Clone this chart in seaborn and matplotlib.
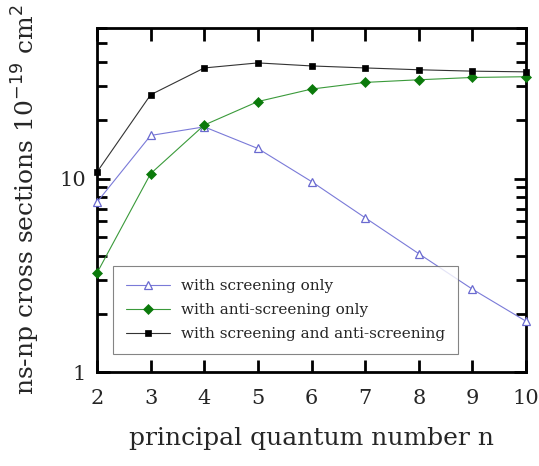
import numpy as np
import pandas as pd
import matplotlib
matplotlib.use("Agg")
import matplotlib.pyplot as plt
import seaborn as sns
from matplotlib.ticker import LogLocator, FixedLocator, NullFormatter, FuncFormatter

# principal quantum number
n_values = [2, 3, 4, 5, 6, 7, 8, 9, 10]

# ns-np cross sections (1e-19 cm^2)
screening_only = [7.55, 16.7, 18.5, 14.3, 9.65, 6.27, 4.09, 2.68, 1.83]
anti_screening_only = [3.25, 10.6, 18.9, 25.0, 29.0, 31.4, 32.4, 33.3, 33.6]
screening_and_anti = [10.8, 27.1, 37.3, 39.6, 38.2, 37.3, 36.5, 35.9, 35.6]

labels = ["with screening only",
          "with anti-screening only",
          "with screening and anti-screening"]

df = pd.concat([
    pd.DataFrame({"n": n_values, "sigma": screening_only, "model": labels[0]}),
    pd.DataFrame({"n": n_values, "sigma": anti_screening_only, "model": labels[1]}),
    pd.DataFrame({"n": n_values, "sigma": screening_and_anti, "model": labels[2]}),
])

sns.set_theme(style="ticks")
plt.rcParams["font.family"] = ["DejaVu Serif"]

fig = plt.figure(figsize=(5.39, 4.66), dpi=100)
ax = fig.add_axes([97 / 539, 1 - 372 / 466, (526 - 97) / 539, (372 - 28) / 466])

styles = {
    labels[0]: dict(color="#7a7ad8", marker="^", mfc="white", mec="#6a6ad0",
                    ms=6, mew=0.9),
    labels[1]: dict(color="#3a9a3a", marker="D", mfc="#0b7a0b", mec="#0b7a0b",
                    ms=5, mew=0.5),
    labels[2]: dict(color="#333333", marker="s", mfc="black", mec="black",
                    ms=5, mew=0.5),
}

for lab in labels:
    st = styles[lab]
    sns.lineplot(data=df[df["model"] == lab], x="n", y="sigma", ax=ax,
                 color=st["color"], lw=0.8, marker=st["marker"],
                 markerfacecolor=st["mfc"], markeredgecolor=st["mec"],
                 markersize=st["ms"], markeredgewidth=st["mew"],
                 label=lab, clip_on=False, zorder=3)

ax.set_yscale("log")
ax.set_xlim(2, 10)
ax.set_ylim(1, 60)

ax.xaxis.set_major_locator(FixedLocator(n_values))
ax.yaxis.set_major_locator(LogLocator(base=10))
ax.yaxis.set_minor_locator(LogLocator(base=10, subs=np.arange(2, 10)))
ax.yaxis.set_major_formatter(FuncFormatter(lambda v, p: f"{v:g}"))
ax.yaxis.set_minor_formatter(NullFormatter())

for s in ax.spines.values():
    s.set_linewidth(2.0)
    s.set_color("black")

ax.tick_params(which="both", direction="in", top=True, right=True,
               width=2.0, color="black")
ax.tick_params(which="major", length=9, labelsize=15)
ax.tick_params(axis="x", which="major", pad=12)
ax.tick_params(axis="y", which="major", pad=8)
ax.tick_params(which="minor", length=7)

ax.set_xlabel("principal quantum number n", fontsize=18, labelpad=14)
ax.set_ylabel(r"ns-np cross sections 10$^{-19}$ cm$^2$", fontsize=18, labelpad=12)
ax.grid(False)

leg = ax.legend(loc="lower left", bbox_to_anchor=(16 / 429, 18 / 344),
                frameon=True, fancybox=False, fontsize=11,
                handlelength=2.9, borderpad=0.85, labelspacing=0.65,
                handletextpad=0.7, borderaxespad=0)
leg.get_frame().set_edgecolor("#666666")
leg.get_frame().set_linewidth(0.8)

fig.savefig("out.png", dpi=100)
